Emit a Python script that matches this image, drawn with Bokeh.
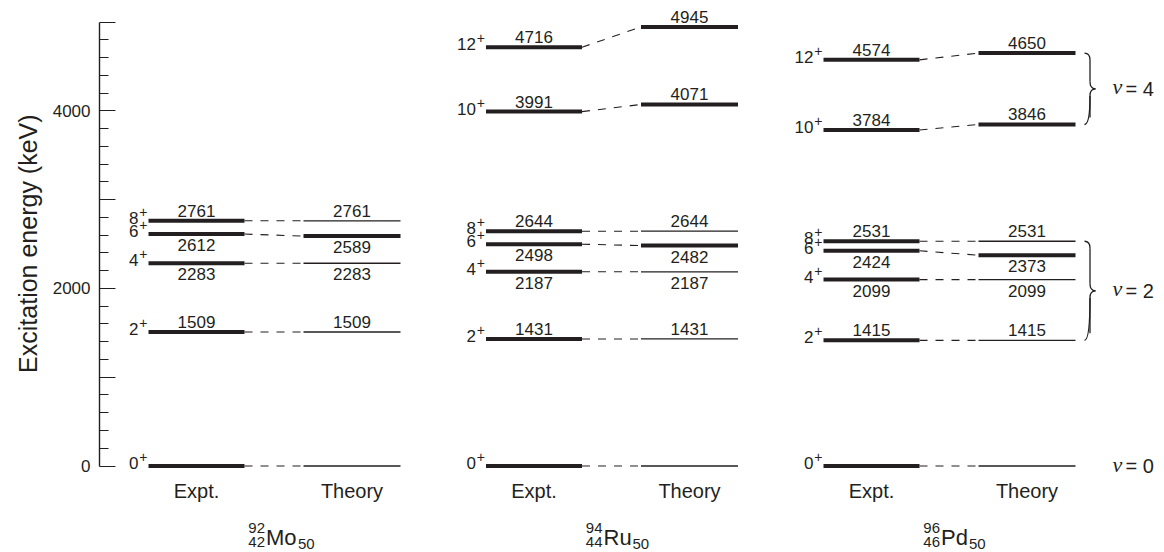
from bokeh.plotting import figure
from bokeh.models import Range1d, LinearAxis, FixedTicker, Title
from bokeh.core.properties import value
from bokeh.embed import file_html
from bokeh.resources import INLINE

# ---------------- data ----------------
symbols = ["Mo", "Ru", "Pd"]
mass_numbers = ["92", "94", "96"]
proton_numbers = ["42", "44", "46"]
neutron_numbers = ["50", "50", "50"]

spins_mo = [0, 2, 4, 6, 8]
expt_mo = [0, 1509, 2283, 2612, 2761]
theory_mo = [0, 1509, 2283, 2589, 2761]

spins_ru = [0, 2, 4, 6, 8, 10, 12]
expt_ru = [0, 1431, 2187, 2498, 2644, 3991, 4716]
theory_ru = [0, 1431, 2187, 2482, 2644, 4071, 4945]

spins_pd = [0, 2, 4, 6, 8, 10, 12]
expt_pd = [0, 1415, 2099, 2424, 2531, 3784, 4574]
theory_pd = [0, 1415, 2099, 2373, 2531, 3846, 4650]

column_labels = ["Expt.", "Theory"]
y_ticks = [0, 1000, 2000, 3000, 4000, 5000]
y_minor = [v for v in range(200, 5000, 200) if v % 1000]
y_tick_labels = {1000: "", 3000: "", 5000: ""}
seniority_groups = [("4", 12, 10), ("2", 8, 2)]   # label, top spin, bottom spin (Pd theory)
seniority_zero = "0"
labels_below = {4, 6}
axis_title = "Excitation energy  (keV)"

groups = [
    (spins_mo, expt_mo, theory_mo),
    (spins_ru, expt_ru, theory_ru),
    (spins_pd, expt_pd, theory_pd),
]

# ---------------- layout ----------------
W, H = 1164, 552
LEFT = 99
PX_PER_KEV = 0.0888
ZERO_Y = 465.5  # canvas px of 0 keV
y_top = ZERO_Y / PX_PER_KEV
y_bot = -(H - ZERO_Y) / PX_PER_KEV

INK = "#231f20"
FONT = "Liberation Sans"

p = figure(width=W, height=H, output_backend="svg", toolbar_location=None,
           x_range=Range1d(LEFT, W), y_range=Range1d(y_bot, y_top),
           x_axis_type=None, y_axis_type=None,
           min_border_left=LEFT, min_border_right=0, min_border_top=0, min_border_bottom=0)
p.outline_line_color = None
p.grid.visible = False
p.background_fill_color = "white"

ax = LinearAxis(ticker=FixedTicker(ticks=y_ticks, minor_ticks=y_minor), bounds=(0, 5000))
ax.major_label_overrides = y_tick_labels
ax.axis_line_color = INK
ax.axis_line_width = 1.4
ax.major_tick_line_color = INK
ax.minor_tick_line_color = INK
ax.major_tick_line_width = 1.2
ax.minor_tick_line_width = 1.2
ax.major_tick_in = 16
ax.major_tick_out = 0
ax.minor_tick_in = 9
ax.minor_tick_out = 0
ax.major_label_standoff = 9
ax.major_label_text_font = FONT
ax.major_label_text_font_size = "17px"
ax.major_label_text_color = INK
p.add_layout(ax, "left")

# axis title as a left-side title, placed along the axis span
p.add_layout(Title(text=axis_title, align="right", offset=107, standoff=15,
                   text_font=FONT, text_font_size="25px", text_font_style="normal",
                   text_color=INK), "left")

GROUP_X0 = 148
GROUP_STEP = 337.5
BAR_W = 96
GAP = 59

thick_x0, thick_x1, thick_y = [], [], []
thin_x0, thin_x1, thin_y = [], [], []
dash_x0, dash_x1, dash_y0, dash_y1 = [], [], [], []
num_x, num_y, num_t, num_off = [], [], [], []
spin_x, spin_y, spin_t = [], [], []
col_x, col_t = [], []

for g, (spins, expt, theo) in enumerate(groups):
    ex0 = GROUP_X0 + g * GROUP_STEP
    ex1 = ex0 + BAR_W
    tx0 = ex1 + GAP
    tx1 = tx0 + BAR_W + 1
    for s, e, t in zip(spins, expt, theo):
        thick_x0.append(ex0); thick_x1.append(ex1); thick_y.append(e)
        if t != e:
            thick_x0.append(tx0); thick_x1.append(tx1); thick_y.append(t)
        else:
            thin_x0.append(tx0); thin_x1.append(tx1); thin_y.append(t)
        dash_x0.append(ex1); dash_x1.append(tx0); dash_y0.append(e); dash_y1.append(t)
        spin_x.append(ex0); spin_y.append(e); spin_t.append(str(s))
        if s != 0:
            below = s in labels_below
            for xc, v in ((ex0 + BAR_W / 2, e), ((tx0 + tx1) / 2, t)):
                num_x.append(xc); num_y.append(v); num_t.append(str(v))
                num_off.append(11 if below else -10)
    col_x += [ex0 + BAR_W / 2, (tx0 + tx1) / 2]
    col_t += column_labels

p.segment(x0=thick_x0, x1=thick_x1, y0=thick_y, y1=thick_y, line_width=4, line_color=INK)
p.segment(x0=thin_x0, x1=thin_x1, y0=thin_y, y1=thin_y, line_width=1.3, line_color=INK)
p.segment(x0=dash_x0, x1=dash_x1, y0=dash_y0, y1=dash_y1, line_width=1.1, line_color=INK,
          line_dash="8 8")

p.text(x=num_x, y=num_y, text=num_t, text_align="center", text_baseline="middle",
       y_offset=num_off, text_font=value(FONT), text_font_size="17px", text_color=INK)

# spin labels (J^+)
p.text(x=[x - 10 for x in spin_x], y=spin_y, text=spin_t, text_align="right",
       text_baseline="middle", y_offset=-3, text_font=value(FONT), text_font_size="17px",
       text_color=INK)
p.text(x=[x - 1 for x in spin_x], y=spin_y, text=["+"] * len(spin_x), text_align="right",
       text_baseline="middle", y_offset=-9, text_font=value(FONT), text_font_size="14px",
       text_color=INK)

# column labels
p.text(x=col_x, y=[0] * len(col_x), text=col_t, text_align="center", text_baseline="middle",
       y_offset=25, text_font=value(FONT), text_font_size="20px", text_color=INK)

# nucleus labels
sym_w = {"Mo": 31, "Ru": 28, "Pd": 27}
for g in range(3):
    ex0 = GROUP_X0 + g * GROUP_STEP
    xc = ex0 + BAR_W + GAP / 2 - 8
    p.text(x=[xc], y=[0], text=[symbols[g]], text_align="left", text_baseline="middle",
           y_offset=71, text_font=value(FONT), text_font_size="22px", text_color=INK)
    p.text(x=[xc - 1], y=[0], text=[mass_numbers[g]], text_align="right",
           text_baseline="middle", y_offset=62, text_font=value(FONT),
           text_font_size="15px", text_color=INK)
    p.text(x=[xc - 1], y=[0], text=[proton_numbers[g]], text_align="right",
           text_baseline="middle", y_offset=76, text_font=value(FONT),
           text_font_size="15px", text_color=INK)
    p.text(x=[xc + sym_w[symbols[g]] + 1], y=[0], text=[neutron_numbers[g]], text_align="left",
           text_baseline="middle", y_offset=78, text_font=value(FONT),
           text_font_size="15px", text_color=INK)

# seniority braces for the last nucleus (theory levels)
spins, expt, theo = groups[2]
lvl = dict(zip(spins, theo))
BX = GROUP_X0 + 2 * GROUP_STEP + BAR_W + GAP + BAR_W + 10
A = 5.5
R = 7 / PX_PER_KEV
v_lab_y, v_lab_t = [], []
for lab, s_top, s_bot in seniority_groups:
    yt, yb = lvl[s_top], lvl[s_bot]
    ym = (yt + yb) / 2
    p.quadratic(x0=[BX, BX + A, BX + 2 * A, BX + A],
                y0=[yt, ym + R, ym, ym - R],
                x1=[BX + A, BX + 2 * A, BX + A, BX],
                y1=[yt - R, ym, ym - R, yb],
                cx=[BX + A, BX + A, BX + A, BX + A],
                cy=[yt, ym, ym, yb],
                line_color=INK, line_width=1.3)
    p.segment(x0=[BX + A, BX + A], x1=[BX + A, BX + A], y0=[yt - R, ym - R], y1=[ym + R, yb + R],
              line_color=INK, line_width=1.3)
    v_lab_y.append(ym); v_lab_t.append("= " + lab)
v_lab_y.append(0); v_lab_t.append("= " + seniority_zero)

VX = BX + 28
p.text(x=[VX] * len(v_lab_y), y=v_lab_y, text=["v"] * len(v_lab_y), text_align="left",
       text_baseline="middle", y_offset=-2, text_font=value("Liberation Serif"),
       text_font_style="italic", text_font_size="22px", text_color=INK)
p.text(x=[VX + 13] * len(v_lab_y), y=v_lab_y, text=v_lab_t, text_align="left",
       text_baseline="middle", y_offset=0, text_font=value(FONT), text_font_size="20px",
       text_color=INK)

open("out.html", "w").write(file_html(p, INLINE))
